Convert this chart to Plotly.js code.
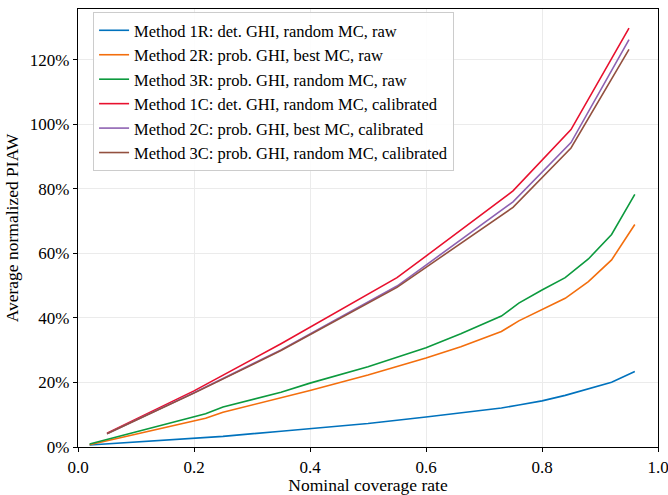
<!DOCTYPE html>
<html>
<head>
<meta charset="utf-8">
<script src="https://cdn.plot.ly/plotly-3.0.1.min.js"></script>
<style>html,body{margin:0;padding:0;background:#fff;}#chart{width:668px;height:495px;}</style>
</head>
<body>
<div id="chart"></div>
<script>
// Nominal coverage rates (x)
const rawX = [0.02, 0.22, 0.25, 0.35, 0.40, 0.50, 0.60, 0.66, 0.73, 0.76, 0.80, 0.84, 0.88, 0.92, 0.96];
const calX = [0.05, 0.20, 0.35, 0.55, 0.60, 0.75, 0.85, 0.95];

// Average normalized PIAW (fraction)
const m1R = [0.006, 0.028, 0.033, 0.049, 0.057, 0.073, 0.093, 0.105, 0.121, 0.130, 0.143, 0.160, 0.180, 0.201, 0.234];
const m2R = [0.007, 0.089, 0.108, 0.152, 0.175, 0.223, 0.276, 0.311, 0.358, 0.391, 0.425, 0.461, 0.513, 0.580, 0.690];
const m3R = [0.009, 0.103, 0.124, 0.170, 0.198, 0.249, 0.308, 0.351, 0.406, 0.446, 0.487, 0.525, 0.583, 0.659, 0.783];
const m1C = [0.043, 0.174, 0.320, 0.525, 0.592, 0.794, 0.984, 1.299];
const m2C = [0.041, 0.168, 0.301, 0.499, 0.564, 0.760, 0.944, 1.263];
const m3C = [0.041, 0.167, 0.299, 0.495, 0.557, 0.743, 0.927, 1.233];

const names = [
  "Method 1R: det. GHI, random MC, raw",
  "Method 2R: prob. GHI, best MC, raw",
  "Method 3R: prob. GHI, random MC, raw",
  "Method 1C: det. GHI, random MC, calibrated",
  "Method 2C: prob. GHI, best MC, calibrated",
  "Method 3C: prob. GHI, random MC, calibrated"
];
const colors = ["#0072BD", "#F36E0D", "#0C9A3E", "#E8102E", "#8E62B2", "#93503F"];
const xs = [rawX, rawX, rawX, calX, calX, calX];
const ys = [m1R, m2R, m3R, m1C, m2C, m3C];

const traces = ys.map((y, i) => ({
  x: xs[i], y: y, name: names[i], type: "scatter", mode: "lines",
  line: {color: colors[i], width: 1.6}
}));

const fam = "Liberation Serif, Times New Roman, serif";
const layout = {
  width: 668, height: 495,
  margin: {l: 78, r: 10, t: 8.5, b: 47.7},
  paper_bgcolor: "#fff", plot_bgcolor: "#fff",
  font: {family: fam, size: 17, color: "#000"},
  showlegend: true,
  legend: {x: 0.026, y: 0.993, xanchor: "left", yanchor: "top",
           bgcolor: "rgba(255,255,255,0.9)", bordercolor: "#cccccc", borderwidth: 1,
           font: {family: fam, size: 16.5, color: "#000"}, tracegroupgap: 0},
  xaxis: {range: [0, 1], dtick: 0.2, tickformat: ".1f", showgrid: true, gridcolor: "#ebebeb",
          zeroline: false, showline: true, linecolor: "#000", linewidth: 1.2, mirror: true,
          ticks: "outside", ticklen: 4, tickcolor: "#000", tickfont: {family: fam, size: 17},
          ticklabeloverflow: "allow",
          title: {text: "Nominal coverage rate", font: {family: fam, size: 17.5}, standoff: 5}},
  yaxis: {range: [0, 1.358], dtick: 0.2, tickformat: ".0%", showgrid: true, gridcolor: "#ebebeb",
          zeroline: false, showline: true, linecolor: "#000", linewidth: 1.2, mirror: true,
          ticks: "outside", ticklen: 4, tickcolor: "#000", tickfont: {family: fam, size: 17},
          ticklabeloverflow: "allow",
          title: {text: "Average normalized PIAW", font: {family: fam, size: 17.5}, standoff: 6}}
};
Plotly.newPlot("chart", traces, layout, {displayModeBar: false, staticPlot: true});
</script>
</body>
</html>
